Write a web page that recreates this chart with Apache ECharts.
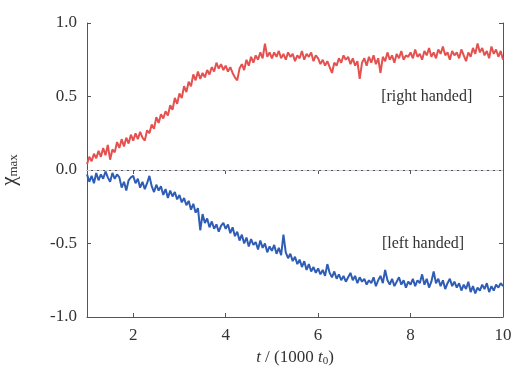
<!DOCTYPE html>
<html>
<head>
<meta charset="utf-8">
<script src="https://cdn.jsdelivr.net/npm/echarts@6/dist/echarts.min.js"></script>
<style>
  html, body { margin: 0; padding: 0; background: #fff; }
  #chart { width: 512px; height: 369px; }
</style>
</head>
<body>
<div id="chart"></div>
<script>
// time axis in units of 1000 t0, one sample every 0.05
const tStart = 1
const tStep = 0.05

const xTicks = [2, 4, 6, 8, 10]

// right handed chirality (red)
const rightHanded = [
  0.04, 0.09, 0.06, 0.11, 0.08, 0.13, 0.09, 0.15, 0.10, 0.17, 0.07, 0.14, 0.12, 0.19, 0.15, 0.21, 0.16, 0.22, 0.18, 0.24,
  0.20, 0.25, 0.21, 0.26, 0.22, 0.20, 0.27, 0.25, 0.31, 0.28, 0.36, 0.32, 0.38, 0.35, 0.40, 0.37, 0.44, 0.41, 0.49, 0.45,
  0.52, 0.49, 0.57, 0.53, 0.60, 0.57, 0.65, 0.61, 0.67, 0.62, 0.66, 0.63, 0.68, 0.65, 0.70, 0.67, 0.73, 0.69, 0.72, 0.68,
  0.71, 0.67, 0.70, 0.66, 0.63, 0.61, 0.69, 0.72, 0.68, 0.75, 0.71, 0.77, 0.73, 0.78, 0.75, 0.80, 0.76, 0.86, 0.77, 0.80,
  0.76, 0.80, 0.77, 0.81, 0.76, 0.79, 0.75, 0.80, 0.77, 0.79, 0.74, 0.78, 0.76, 0.81, 0.75, 0.79, 0.77, 0.80, 0.74, 0.78,
  0.76, 0.72, 0.75, 0.71, 0.74, 0.70, 0.66, 0.73, 0.71, 0.76, 0.73, 0.78, 0.75, 0.77, 0.72, 0.76, 0.71, 0.74, 0.62, 0.73,
  0.76, 0.71, 0.77, 0.73, 0.78, 0.72, 0.76, 0.66, 0.77, 0.74, 0.80, 0.75, 0.78, 0.73, 0.79, 0.76, 0.81, 0.75, 0.78, 0.77,
  0.80, 0.76, 0.82, 0.77, 0.79, 0.75, 0.81, 0.78, 0.83, 0.77, 0.80, 0.76, 0.82, 0.79, 0.84, 0.78, 0.80, 0.75, 0.81, 0.78,
  0.80, 0.76, 0.82, 0.78, 0.74, 0.80, 0.77, 0.83, 0.79, 0.86, 0.80, 0.83, 0.78, 0.81, 0.76, 0.84, 0.79, 0.82, 0.77, 0.81, 0.75
]

// left handed chirality (blue)
const leftHanded = [
  -0.03, -0.08, -0.04, -0.09, -0.02, -0.07, -0.03, -0.06, -0.01, -0.05, -0.08, -0.02, -0.06, -0.03, -0.05, -0.12, -0.08, -0.14, -0.07, -0.05,
  -0.04, -0.09, -0.06, -0.12, -0.08, -0.13, -0.09, -0.04, -0.11, -0.15, -0.10, -0.14, -0.11, -0.17, -0.13, -0.19, -0.14, -0.18, -0.15, -0.20,
  -0.17, -0.22, -0.19, -0.24, -0.21, -0.27, -0.23, -0.29, -0.26, -0.41, -0.30, -0.36, -0.33, -0.39, -0.35, -0.40, -0.37, -0.42, -0.38, -0.36,
  -0.40, -0.37, -0.43, -0.39, -0.45, -0.42, -0.48, -0.44, -0.50, -0.46, -0.52, -0.47, -0.51, -0.49, -0.54, -0.48, -0.53, -0.50, -0.56, -0.52,
  -0.55, -0.51, -0.57, -0.53, -0.58, -0.44, -0.56, -0.60, -0.57, -0.62, -0.59, -0.64, -0.61, -0.66, -0.62, -0.68, -0.64, -0.69, -0.66, -0.70,
  -0.67, -0.71, -0.68, -0.72, -0.64, -0.70, -0.73, -0.69, -0.74, -0.71, -0.75, -0.72, -0.76, -0.73, -0.70, -0.75, -0.72, -0.77, -0.73, -0.76,
  -0.74, -0.78, -0.75, -0.77, -0.73, -0.79, -0.75, -0.72, -0.77, -0.68, -0.75, -0.78, -0.74, -0.79, -0.76, -0.73, -0.78, -0.75, -0.80, -0.76,
  -0.78, -0.74, -0.79, -0.75, -0.77, -0.71, -0.78, -0.74, -0.80, -0.76, -0.69, -0.77, -0.74, -0.79, -0.75, -0.81, -0.77, -0.74, -0.79, -0.76,
  -0.80, -0.77, -0.82, -0.78, -0.81, -0.76, -0.83, -0.79, -0.84, -0.80, -0.82, -0.78, -0.81, -0.77, -0.83, -0.79, -0.82, -0.78, -0.80, -0.77, -0.79
]

const serif = 'Liberation Serif'
const ink = '#333'
const frame = '#555'

function pairs(values) {
  return values.map((v, i) => [+(tStart + i * tStep).toFixed(2), v])
}

let chart = echarts.init(document.getElementById('chart'))

let option = {
  animation: false,
  backgroundColor: '#fff',
  grid: {
    left: 87,
    right: 9,
    top: 23,
    bottom: 52,
    outerBoundsMode: 'none'
  },
  xAxis: [
    {
      type: 'value',
      min: 1,
      max: 10,
      position: 'bottom',
      name: '{i|t} / (1000 {i|t}{s|0})',
      nameLocation: 'middle',
      nameGap: 31,
      nameTextStyle: {
        fontFamily: serif,
        fontSize: 17,
        color: ink,
        rich: {
          i: { fontFamily: serif, fontSize: 17, fontStyle: 'italic', color: ink },
          s: { fontFamily: serif, fontSize: 11, color: ink, padding: [7, 0, 0, 0] }
        }
      },
      axisLine: { show: true, onZero: false, lineStyle: { color: frame, width: 1 } },
      axisTick: { show: true, inside: true, length: 4, customValues: xTicks, lineStyle: { color: frame } },
      axisLabel: {
        customValues: xTicks,
        fontFamily: serif,
        fontSize: 17,
        color: ink,
        margin: 10
      },
      splitLine: { show: false }
    },
    {
      type: 'value',
      min: 1,
      max: 10,
      position: 'top',
      axisLine: { show: true, lineStyle: { color: frame, width: 1 } },
      axisTick: { show: true, inside: true, length: 4, customValues: xTicks, lineStyle: { color: frame } },
      axisLabel: { show: false },
      splitLine: { show: false }
    }
  ],
  yAxis: [
    {
      type: 'value',
      min: -1,
      max: 1,
      interval: 0.5,
      position: 'left',
      name: '{c|χ}{s|max}',
      nameLocation: 'middle',
      nameRotate: 90,
      nameGap: 67,
      nameTextStyle: {
        rich: {
          c: { fontFamily: serif, fontSize: 21, color: ink },
          s: { fontFamily: serif, fontSize: 13, color: ink, padding: [9, 0, 0, 0] }
        }
      },
      axisLine: { show: true, onZero: false, lineStyle: { color: frame, width: 1 } },
      axisTick: { show: true, inside: true, length: 4, lineStyle: { color: frame } },
      axisLabel: {
        formatter: v => v.toFixed(1),
        fontFamily: serif,
        fontSize: 17,
        color: ink,
        margin: 10
      },
      splitLine: { show: false }
    },
    {
      type: 'value',
      min: -1,
      max: 1,
      interval: 0.5,
      position: 'right',
      axisLine: { show: true, lineStyle: { color: frame, width: 1 } },
      axisTick: { show: true, inside: true, length: 4, lineStyle: { color: frame } },
      axisLabel: { show: false },
      splitLine: { show: false }
    }
  ],
  series: [
    {
      name: 'right handed',
      type: 'line',
      data: pairs(rightHanded),
      showSymbol: false,
      lineStyle: { color: '#e5514f', width: 2 },
      itemStyle: { color: '#e5514f' },
      markLine: {
        silent: true,
        symbol: 'none',
        label: { show: false },
        lineStyle: { color: '#c8cdd6', type: 'dashed', width: 1 },
        data: [{ yAxis: 0 }]
      },
      markPoint: {
        symbolSize: 0,
        label: {
          show: true,
          position: 'inside',
          formatter: '[right handed]',
          fontFamily: serif,
          fontSize: 16,
          color: ink
        },
        data: [{ coord: [8.35, 0.5] }]
      }
    },
    {
      name: 'left handed',
      type: 'line',
      data: pairs(leftHanded),
      showSymbol: false,
      lineStyle: { color: '#2f5db5', width: 2 },
      itemStyle: { color: '#2f5db5' },
      markPoint: {
        symbolSize: 0,
        label: {
          show: true,
          position: 'inside',
          formatter: '[left handed]',
          fontFamily: serif,
          fontSize: 16,
          color: ink
        },
        data: [{ coord: [8.27, -0.5] }]
      }
    }
  ]
}

chart.setOption(option)
</script>
</body>
</html>
